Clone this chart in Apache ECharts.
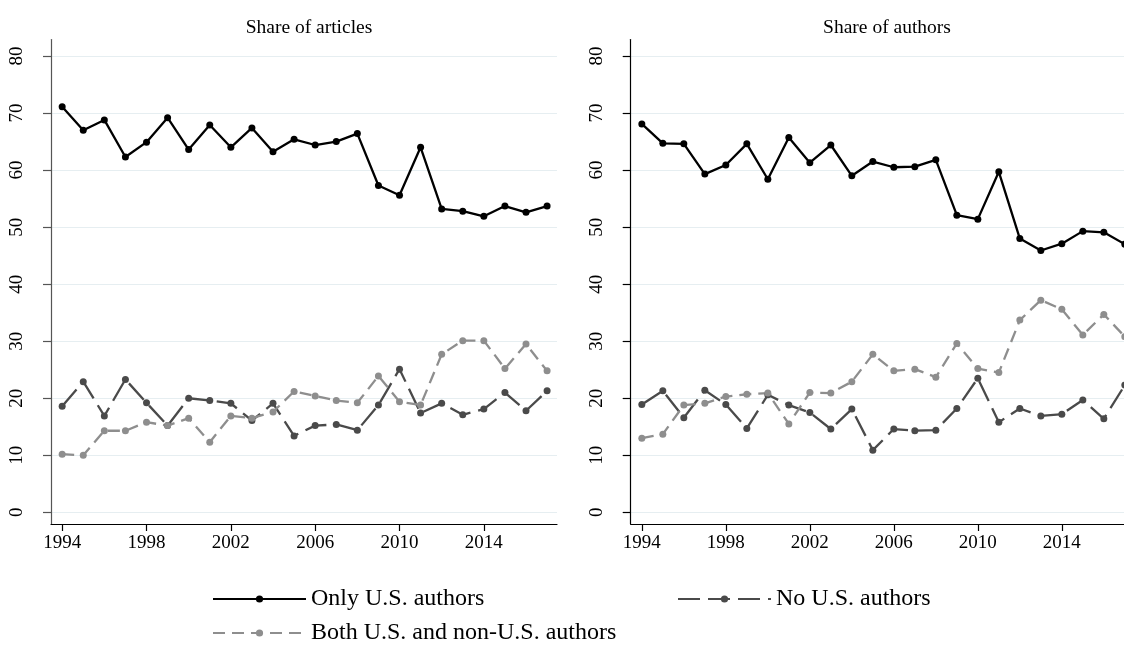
<!DOCTYPE html>
<html>
<head>
<meta charset="utf-8">
<script src="https://cdn.jsdelivr.net/npm/echarts@6/dist/echarts.min.js"></script>
<style>
  html, body { margin: 0; padding: 0; background: #fff; }
  #chart { width: 1124px; height: 655px; }
</style>
</head>
<body>
<div id="chart"></div>
<script>
const years = [1994, 1995, 1996, 1997, 1998, 1999, 2000, 2001, 2002, 2003, 2004, 2005,
  2006, 2007, 2008, 2009, 2010, 2011, 2012, 2013, 2014, 2015, 2016, 2017]
const xTicks = [1994, 1998, 2002, 2006, 2010, 2014]
const yTicks = [0, 10, 20, 30, 40, 50, 60, 70, 80]
const panelTitles = ['Share of articles', 'Share of authors']
const seriesNames = ['Only U.S. authors', 'No U.S. authors', 'Both U.S. and non-U.S. authors']

// share of articles
const articlesOnlyUS = [71.1, 67.0, 68.8, 62.3, 64.9, 69.2, 63.6, 67.9, 64.0, 67.4, 63.2, 65.4,
  64.4, 65.0, 66.4, 57.3, 55.6, 64.0, 53.2, 52.8, 51.9, 53.7, 52.6, 53.7]
const articlesNoUS = [18.6, 22.9, 16.9, 23.3, 19.2, 15.2, 20.0, 19.6, 19.1, 16.1, 19.1, 13.4,
  15.2, 15.4, 14.4, 18.8, 25.1, 17.4, 19.1, 17.1, 18.1, 21.0, 17.8, 21.3]
const articlesBoth = [10.2, 10.0, 14.3, 14.3, 15.8, 15.2, 16.5, 12.3, 16.9, 16.5, 17.6, 21.2,
  20.4, 19.6, 19.2, 23.9, 19.4, 18.8, 27.7, 30.1, 30.1, 25.2, 29.5, 24.8]

// share of authors
const authorsOnlyUS = [68.1, 64.7, 64.6, 59.3, 60.9, 64.6, 58.4, 65.7, 61.3, 64.4, 59.0, 61.5,
  60.5, 60.6, 61.8, 52.1, 51.4, 59.7, 48.0, 45.9, 47.1, 49.3, 49.1, 47.0]
const authorsNoUS = [18.9, 21.3, 16.6, 21.4, 18.9, 14.7, 20.6, 18.8, 17.5, 14.6, 18.1, 10.9,
  14.6, 14.3, 14.4, 18.2, 23.5, 15.8, 18.2, 16.9, 17.2, 19.7, 16.4, 22.3]
const authorsBoth = [13.0, 13.7, 18.8, 19.1, 20.3, 20.7, 20.9, 15.5, 21.0, 20.9, 22.9, 27.7,
  24.8, 25.1, 23.7, 29.6, 25.2, 24.5, 33.7, 37.2, 35.6, 31.1, 34.7, 30.8]

const FONT = '"Liberation Serif", "DejaVu Serif", serif'

const styles = [
  { color: '#000000', dash: 'solid' },
  { color: '#4a4a4a', dash: [22, 8] },
  { color: '#8e8e8e', dash: [12, 7] }
]

const toPoints = vals => years.map((y, i) => [y, vals[i]])

const makeSeries = (name, vals, idx, style) => ({
  name,
  type: 'line',
  xAxisIndex: idx,
  yAxisIndex: idx,
  data: toPoints(vals),
  symbol: 'circle',
  symbolSize: 7,
  showAllSymbol: true,
  clip: false,
  color: style.color,
  itemStyle: { color: style.color },
  lineStyle: { color: style.color, width: 2.3, type: style.dash },
  emphasis: { disabled: true },
  animation: false
})

const makeX = (idx) => ({
  type: 'value',
  gridIndex: idx,
  min: 1993.47,
  max: 2017.47,
  axisLine: { show: true, onZero: false, lineStyle: { color: '#000', width: 1.2 } },
  axisTick: { show: true, length: 7, customValues: xTicks, lineStyle: { color: '#000', width: 1.2 } },
  axisLabel: {
    customValues: xTicks,
    formatter: v => String(v),
    color: '#000', fontFamily: FONT, fontSize: 19, margin: 10
  },
  splitLine: { show: false }
})

const makeY = (idx, axisColor) => ({
  type: 'value',
  gridIndex: idx,
  min: -2.05,
  max: 82.9,
  axisLine: { show: true, lineStyle: { color: axisColor, width: 1.2 } },
  axisTick: { show: true, length: 8, customValues: yTicks, lineStyle: { color: axisColor, width: 1.2 } },
  axisLabel: { customValues: yTicks, rotate: 90, color: '#000', fontFamily: FONT, fontSize: 19, margin: 24 },
  splitLine: { show: true, lineStyle: { color: '#e6eef1', width: 1.2 } }
})

const chart = echarts.init(document.getElementById('chart'), null, { renderer: 'canvas' })

const option = {
  backgroundColor: '#ffffff',
  animation: false,
  title: [
    { text: panelTitles[0], left: 304, top: 13, textAlign: 'center',
      textStyle: { fontFamily: FONT, fontSize: 19.5, fontWeight: 'normal', color: '#000' } },
    { text: panelTitles[1], left: 882, top: 13, textAlign: 'center',
      textStyle: { fontFamily: FONT, fontSize: 19.5, fontWeight: 'normal', color: '#000' } }
  ],
  legend: [
    {
      data: [seriesNames[0], seriesNames[2]],
      orient: 'vertical',
      left: 207,
      top: 582,
      itemWidth: 93,
      itemHeight: 9,
      itemGap: 10,
      selectedMode: false,
      textStyle: { fontFamily: FONT, fontSize: 24, color: '#000' }
    },
    {
      data: [seriesNames[1]],
      orient: 'vertical',
      left: 672,
      top: 582,
      itemWidth: 93,
      itemHeight: 9,
      selectedMode: false,
      textStyle: { fontFamily: FONT, fontSize: 24, color: '#000' }
    }
  ],
  grid: [
    { left: 51, top: 39.5, width: 506, height: 484.5, outerBoundsMode: 'none' },
    { left: 630.7, top: 39.5, width: 504, height: 484.5, outerBoundsMode: 'none' }
  ],
  xAxis: [makeX(0), makeX(1)],
  yAxis: [makeY(0, '#555'), makeY(1, '#000')],
  series: [
    makeSeries(seriesNames[0], articlesOnlyUS, 0, styles[0]),
    makeSeries(seriesNames[1], articlesNoUS, 0, styles[1]),
    makeSeries(seriesNames[2], articlesBoth, 0, styles[2]),
    makeSeries(seriesNames[0], authorsOnlyUS, 1, styles[0]),
    makeSeries(seriesNames[1], authorsNoUS, 1, styles[1]),
    makeSeries(seriesNames[2], authorsBoth, 1, styles[2])
  ]
}

chart.setOption(option)
window.addEventListener('resize', () => chart.resize())
</script>
</body>
</html>
